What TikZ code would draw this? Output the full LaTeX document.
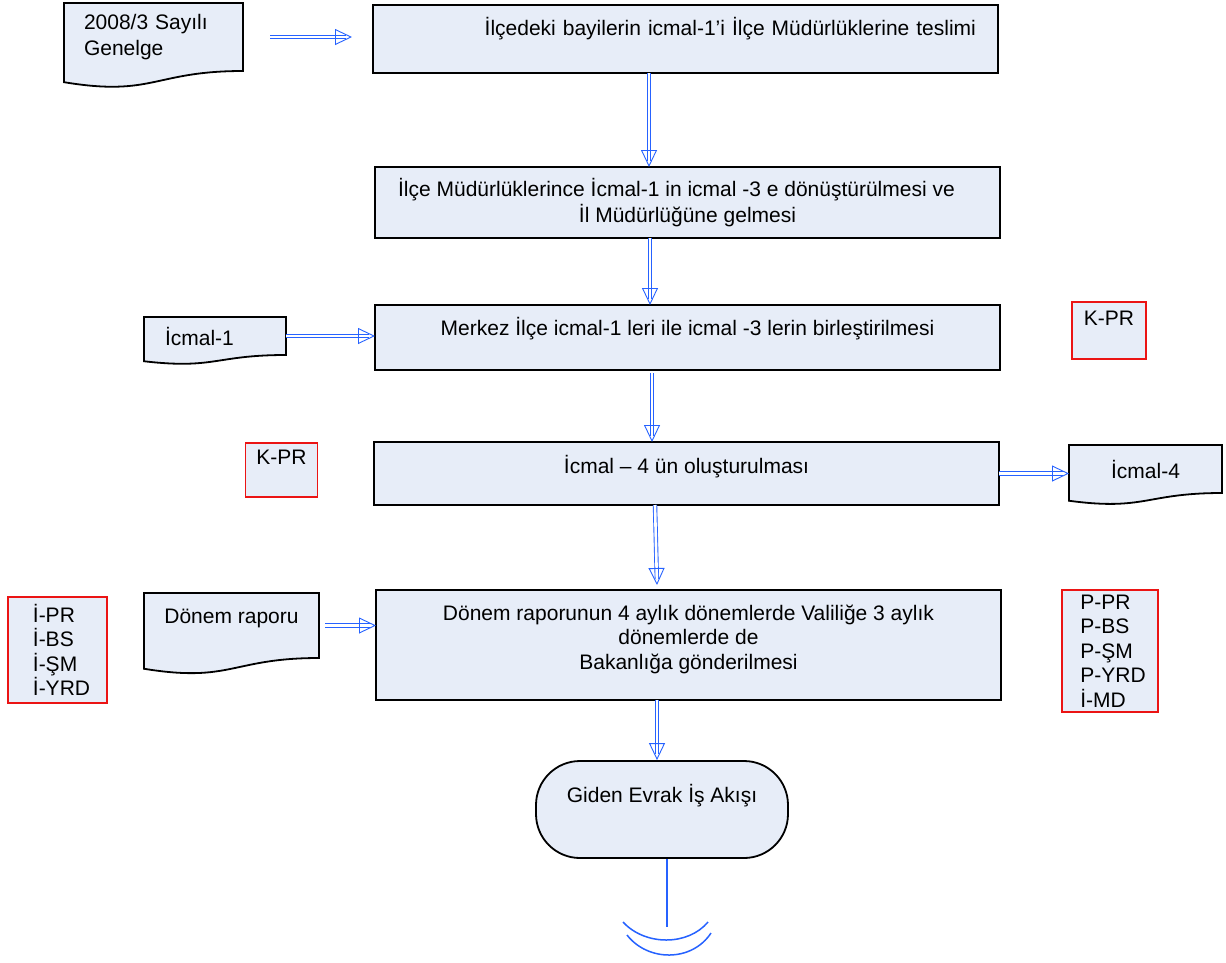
\documentclass[tikz,border=0pt]{standalone}
\usepackage{fontspec}
\setmainfont{Liberation Sans}
\usetikzlibrary{arrows.meta,calc,backgrounds}
\definecolor{cfill}{RGB}{231,237,248}
\definecolor{cblue}{RGB}{38,98,255}
\definecolor{cred}{RGB}{235,20,20}

% double blue shaft, open head on top
\newcommand{\flow}[2]{%
  \draw[flow line] (#1) -- (#2);
  \draw[flow tip] ($(#2)!17pt!(#1)$) -- (#2);}
% document shape with a wavy foot, behind the node text
\newcommand{\docwave}[2]{%
  \begin{pgfonlayer}{background}
  \draw[doc line] (#1.north west) -- (#1.north east) -- (#1.south east)
    .. controls (#1.south) and ($(#1.south)+(0,#2)$) .. ($(#1.south west)+(0,#2*0.43)$) -- cycle;
  \end{pgfonlayer}}

\begin{document}
\begin{tikzpicture}[x=1pt,y=-1pt,font=\fontsize{21}{24.5}\selectfont,
  box node/.style={rectangle,draw,fill=cfill,line width=1.8pt,minimum width=625pt,inner sep=0pt,outer sep=0pt},
  doc node/.style={rectangle,inner sep=0pt,outer sep=0pt},
  note node/.style={rectangle,draw=cred,fill=cfill,line width=1.8pt,inner sep=0pt,outer sep=0pt,align=left},
  end node/.style={rectangle,rounded corners=44pt,draw,fill=cfill,line width=1.8pt,minimum width=252pt,minimum height=97pt},
  doc line/.style={draw,fill=cfill,line width=1.8pt},
  flow line/.style={draw=cblue,line width=0.9pt,double=white,double distance=2.6pt,shorten >=6pt},
  flow tip/.style={draw=cblue,line width=0.9pt,-{Triangle[open,length=17pt,width=16pt]}},
  wire/.style={draw=cblue,line width=1.5pt},
  lift/.style={text height=15pt,text depth=#1}]
  \useasboundingbox (0,0) rectangle (1226,962);
  \begin{pgfonlayer}{background}
    \fill[white] (0,0) rectangle (1226,962);
  \end{pgfonlayer}

  \node[doc node,minimum width=179pt,minimum height=68pt,text width=139pt,inner xsep=20pt,align=left] (gen) at (153.5,37) {2008/3 Sayılı\\[1.5pt]Genelge};
  \node[box node,minimum height=68pt,text width=581pt,inner xsep=22pt,align=right,lift=22pt] (teslim) at (685.5,39) {İlçedeki bayilerin icmal-1’i İlçe Müdürlüklerine teslimi};
  \node[box node,minimum height=71pt,align=center] (donus) at (687.5,202.5) {İlçe Müdürlüklerince İcmal-1 in icmal -3 e dönüştürülmesi ve\hspace*{22pt}\\[2pt]İl Müdürlüğüne gelmesi};
  \node[box node,minimum height=65pt,lift=20pt] (birles) at (687.5,337.5) {Merkez İlçe icmal-1 leri ile icmal -3 lerin birleştirilmesi};
  \node[box node,minimum height=63pt,lift=15pt] (icmal4) at (686.5,473.5) {İcmal – 4 ün oluşturulması};
  \node[box node,minimum height=110pt,align=center,text depth=16pt] (donem) at (688.5,645) {Dönem raporunun 4 aylık dönemlerde Valiliğe 3 aylık\\dönemlerde de\\Bakanlığa gönderilmesi};
  \node[end node,lift=29pt] (giden) at (662,809.5) {Giden Evrak İş Akışı};

  \node[doc node,minimum width=142pt,minimum height=38pt,text width=100pt,inner xsep=21pt,align=left] (ic1) at (215,336) {İcmal-1};
  \node[doc node,minimum width=153pt,minimum height=48pt] (ic4) at (1145.5,469) {İcmal-4};
  \node[doc node,minimum width=175pt,minimum height=65pt,lift=20pt] (rapor) at (231.5,625.5) {Dönem raporu};

  \node[note node,minimum width=74pt,minimum height=57pt,lift=25pt] (kpr1) at (1109,330.5) {K-PR};
  \node[note node,minimum width=72pt,minimum height=54pt,lift=26pt] (kpr2) at (281.5,470) {K-PR};
  \node[note node,minimum width=99pt,minimum height=106pt] (ilce) at (57.5,650) {\hspace*{8pt}İ-PR\\\hspace*{8pt}İ-BS\\\hspace*{8pt}İ-ŞM\\\hspace*{8pt}İ-YRD};
  \node[note node,minimum width=96pt,minimum height=122pt] (pers) at (1110,651) {\hspace*{6pt}P-PR\\\hspace*{6pt}P-BS\\\hspace*{6pt}P-ŞM\\\hspace*{6pt}P-YRD\\\hspace*{6pt}İ-MD};

  \docwave{gen}{26}
  \docwave{ic1}{14.5}
  \docwave{ic4}{18}
  \docwave{rapor}{25}

  \flow{[xshift=27pt]gen.east}{[xshift=-21pt]gen.east -| teslim.west}
  \flow{[xshift=-36.5pt]teslim.south}{[xshift=-36.5pt]teslim.south |- donus.north}
  \flow{[xshift=-37.5pt]donus.south}{[xshift=-37.5pt]donus.south |- birles.north}
  \flow{ic1.east}{ic1.east -| birles.west}
  \flow{[xshift=-35.5pt,yshift=-3pt]birles.south}{[xshift=-35.5pt]birles.south |- icmal4.north}
  \flow{icmal4.east}{icmal4.east -| ic4.west}
  \flow{[xshift=-31.5pt]icmal4.south}{[xshift=-31.5pt,yshift=5pt]donem.north}
  \flow{[xshift=6pt]rapor.east}{rapor.east -| donem.west}
  \flow{[xshift=-31.5pt]donem.south}{[xshift=-31.5pt]donem.south |- giden.north}

  \draw[wire] ([xshift=5pt]giden.south) -- ++(0,68) coordinate (offpage);
  \draw[wire] (623,922) .. controls (645,946) and (688,946) .. (708,922);
  \draw[wire] (627,935) .. controls (648,962) and (692,962) .. (711,933);
\end{tikzpicture}
\end{document}
